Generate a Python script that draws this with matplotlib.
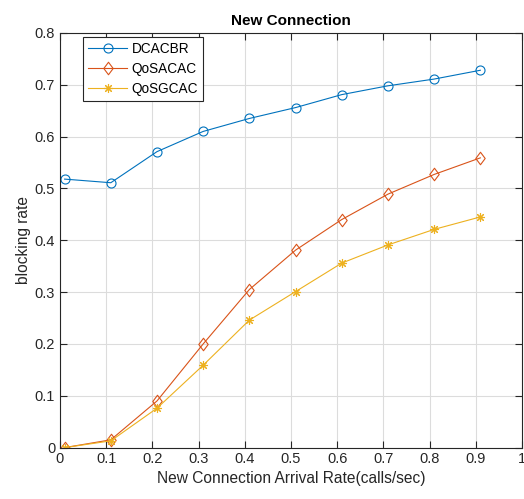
import matplotlib
matplotlib.use('Agg')
import matplotlib.pyplot as plt
from matplotlib.path import Path
import numpy as np

plt.rcParams['font.family'] = ['Liberation Sans', 'DejaVu Sans']

# arrival rates (calls/sec)
rates = [0.01, 0.11, 0.21, 0.31, 0.41, 0.51, 0.61, 0.71, 0.81, 0.91]
dcacbr = [0.518, 0.511, 0.571, 0.610, 0.635, 0.656, 0.681, 0.698, 0.711, 0.728]
qosacac = [0.000, 0.015, 0.090, 0.200, 0.305, 0.381, 0.440, 0.489, 0.527, 0.559]
qosgcac = [0.000, 0.013, 0.076, 0.159, 0.246, 0.301, 0.356, 0.391, 0.421, 0.445]

# matlab style diamond (a bit wider than mpl 'd')
diamond = Path([(0, 1), (0.75, 0), (0, -1), (-0.75, 0), (0, 1)],
               [Path.MOVETO, Path.LINETO, Path.LINETO, Path.LINETO, Path.CLOSEPOLY])

fig = plt.figure(figsize=(5.24, 4.99), dpi=100)
ax = fig.add_axes([0.1145, 0.103, 0.8815, 0.831])

ax.plot(rates, dcacbr, '-', marker='o', color='#0072BD', lw=0.8, ms=6.5, mfc='none', mew=0.8, label='DCACBR')
ax.plot(rates, qosacac, '-', marker=diamond, color='#D95319', lw=0.8, ms=9, mfc='none', mew=0.8, label='QoSACAC')
ax.plot(rates, qosgcac, '-', marker=(8, 2, 0), color='#EDB120', lw=0.8, ms=6.5, mew=0.8, label='QoSGCAC')

ax.set_xlim(0, 1)
ax.set_ylim(0, 0.8)
ax.set_xticks(np.arange(0, 1.01, 0.1))
ax.set_xticklabels(['0', '0.1', '0.2', '0.3', '0.4', '0.5', '0.6', '0.7', '0.8', '0.9', '1'])
ax.set_yticks(np.arange(0, 0.81, 0.1))
ax.set_yticklabels(['0', '0.1', '0.2', '0.3', '0.4', '0.5', '0.6', '0.7', '0.8'])
ax.grid(True, color='#dcdcdc', lw=0.8)
ax.set_axisbelow(True)
ax.tick_params(direction='in', length=5, labelsize=10.5, colors='#262626', top=True, right=True)
for s in ax.spines.values():
    s.set_color('#262626')
    s.set_linewidth(0.8)

ax.set_title('New Connection', fontsize=11, fontweight='bold', pad=6)
ax.set_xlabel('New Connection Arrival Rate(calls/sec)', fontsize=11.2, color='#262626', labelpad=3)
ax.set_ylabel('blocking rate', fontsize=11.2, color='#262626', labelpad=3)

leg = ax.legend(loc='upper left', bbox_to_anchor=(0.05, 0.99), borderaxespad=0, fontsize=9.8,
                fancybox=False, edgecolor='#262626', framealpha=1, borderpad=0.35,
                handlelength=2.9, labelspacing=0.45, handletextpad=0.3)
leg.get_frame().set_linewidth(0.8)

fig.savefig('out.png', dpi=100)
